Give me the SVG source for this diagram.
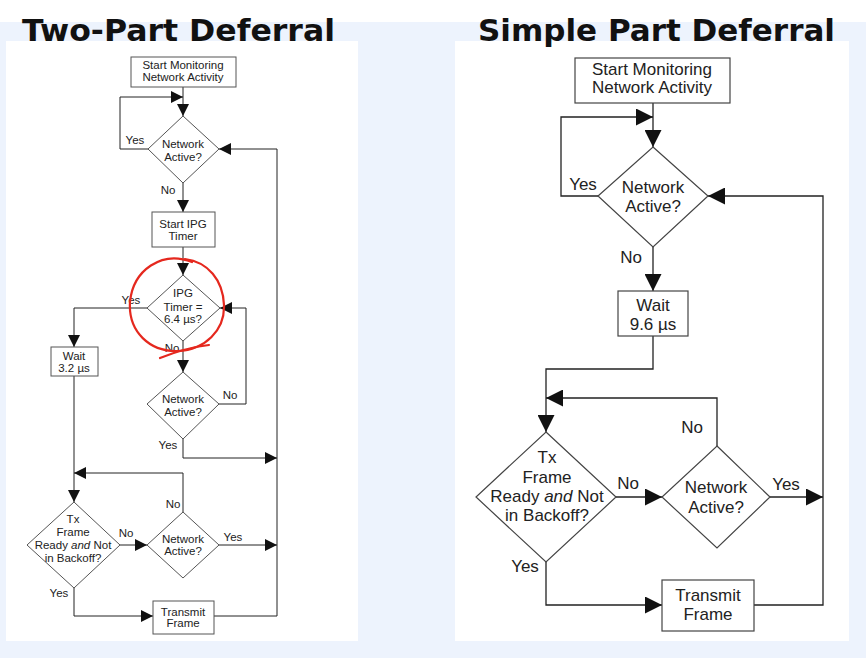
<svg xmlns="http://www.w3.org/2000/svg" width="866" height="658" viewBox="0 0 866 658">
<style>
.title{font-family:"DejaVu Sans",Verdana,sans-serif;font-weight:bold;font-size:31px;fill:#111}
.ls{font-family:"Liberation Sans",Arial,sans-serif;font-size:11.5px;fill:#222;text-anchor:middle}
.rs{font-family:"Liberation Sans",Arial,sans-serif;font-size:17px;fill:#222;text-anchor:middle}
.lshape{fill:#fff;stroke:#555;stroke-width:1}
.rshape{fill:#fff;stroke:#444;stroke-width:1.2}
.lc{fill:none;stroke:#222;stroke-width:1;marker-end:url(#ah)}
.rc{fill:none;stroke:#222;stroke-width:1.3;marker-end:url(#ahb)}
.red{fill:none;stroke:#e5281e;stroke-width:2.2;stroke-linecap:round}
</style>
<defs>
<marker id="ah" viewBox="0 0 10 10" refX="10" refY="5" markerUnits="userSpaceOnUse" markerWidth="13" markerHeight="12" orient="auto"><path d="M0,0 L10,5 L0,10 z" fill="#111"/></marker>
<marker id="ahb" viewBox="0 0 10 10" refX="10" refY="5" markerUnits="userSpaceOnUse" markerWidth="19" markerHeight="17" orient="auto"><path d="M0,0 L10,5 L0,10 z" fill="#111"/></marker>
</defs>
<rect x="0" y="0" width="866" height="658" fill="#edf3fd"/>
<rect x="0" y="0" width="866" height="22" fill="#fff"/>
<rect x="6" y="41" width="352" height="600" fill="#fff"/>
<rect x="455" y="41" width="394" height="600" fill="#fff"/>
<text class="title" x="22" y="41" textLength="313" lengthAdjust="spacingAndGlyphs">Two-Part Deferral</text>
<text class="title" x="478" y="41">Simple Part Deferral</text>

<g id="connectors-left">
<path class="lc" d="M183,87 V116"/>
<path class="lc" d="M148,149 H120 V97 H183"/>
<path class="lc" d="M183,183 V212"/>
<path class="lc" d="M183,247 V275"/>
<path class="lc" d="M147,308 H74 V347"/>
<path class="lc" d="M183,341 V372"/>
<path class="lc" d="M219,404 H246 V308 H220"/>
<path class="lc" d="M183,439 V458 H277"/>
<path class="lc" d="M74,376 V502"/>
<path class="lc" d="M183,512 V473 H74"/>
<path class="lc" d="M120,545 H147"/>
<path class="lc" d="M219,545 H277"/>
<path class="lc" d="M74,588 V616 H153"/>
<path class="lc" d="M214,616 H277 V149 H219"/>
</g>

<g id="l-start">
<rect class="lshape" x="131" y="57" width="105" height="30"/>
<text class="ls" x="183" y="69">Start Monitoring</text>
<text class="ls" x="183" y="81">Network Activity</text>
</g>
<g id="l-active1">
<polygon class="lshape" points="183,116 219,149 183,183 148,149"/>
<text class="ls" x="183" y="148">Network</text>
<text class="ls" x="183" y="161">Active?</text>
</g>
<g id="l-ipgstart">
<rect class="lshape" x="152" y="212" width="63" height="35"/>
<text class="ls" x="183" y="228">Start IPG</text>
<text class="ls" x="183" y="240">Timer</text>
</g>
<g id="l-ipg">
<polygon class="lshape" points="183,275 220,308 183,341 147,308"/>
<text class="ls" x="183" y="297">IPG</text>
<text class="ls" x="183" y="311">Timer =</text>
<text class="ls" x="183" y="323">6.4 µs?</text>
</g>
<g id="l-wait">
<rect class="lshape" x="51" y="347" width="47" height="29"/>
<text class="ls" x="74" y="360">Wait</text>
<text class="ls" x="74" y="372">3.2 µs</text>
</g>
<g id="l-active2">
<polygon class="lshape" points="183,372 219,404 183,439 147,404"/>
<text class="ls" x="183" y="403">Network</text>
<text class="ls" x="183" y="416">Active?</text>
</g>
<g id="l-tx">
<polygon class="lshape" points="74,502 120,545 74,588 27,545"/>
<text class="ls" x="73" y="523">Tx</text>
<text class="ls" x="73" y="536">Frame</text>
<text class="ls" x="73" y="549">Ready <tspan font-style="italic">and</tspan> Not</text>
<text class="ls" x="73" y="562">in Backoff?</text>
</g>
<g id="l-active3">
<polygon class="lshape" points="183,512 219,545 183,578 147,545"/>
<text class="ls" x="183" y="543">Network</text>
<text class="ls" x="183" y="555">Active?</text>
</g>
<g id="l-transmit">
<rect class="lshape" x="153" y="601" width="61" height="33"/>
<text class="ls" x="183" y="616">Transmit</text>
<text class="ls" x="183" y="627">Frame</text>
</g>
<g id="l-labels">
<text class="ls" x="135" y="144">Yes</text>
<text class="ls" x="168" y="194">No</text>
<text class="ls" x="131" y="304">Yes</text>
<text class="ls" x="172" y="352">No</text>
<text class="ls" x="230" y="399">No</text>
<text class="ls" x="168" y="449">Yes</text>
<text class="ls" x="173" y="508">No</text>
<text class="ls" x="126" y="537">No</text>
<text class="ls" x="233" y="541">Yes</text>
<text class="ls" x="59" y="597">Yes</text>
</g>
<g id="red-mark">
<path class="red" d="M192,262 C162,250 133,270 130,302 C128,332 150,352 178,351 C205,350 225,330 224,305 C223,280 208,262 185,259"/>
<path class="red" d="M160,358 C175,352 192,347 209,345"/>
</g>

<g id="connectors-right">
<path class="rc" d="M653,103 V147"/>
<path class="rc" d="M598,196 H561 V117 H653"/>
<path class="rc" d="M653,247 V291"/>
<path class="rc" d="M653,336 V369 H546 V432"/>
<path class="rc" d="M717,446 V398 H546"/>
<path class="rc" d="M616,497 H662"/>
<path class="rc" d="M770,497 H823"/>
<path class="rc" d="M546,562 V605 H662"/>
<path class="rc" d="M754,605 H823 V196 H708"/>
</g>

<g id="r-start">
<rect class="rshape" x="575" y="58" width="155" height="45"/>
<text class="rs" x="652" y="75">Start Monitoring</text>
<text class="rs" x="652" y="93">Network Activity</text>
</g>
<g id="r-active1">
<polygon class="rshape" points="653,147 708,196 653,247 598,196"/>
<text class="rs" x="653" y="193">Network</text>
<text class="rs" x="653" y="212">Active?</text>
</g>
<g id="r-wait">
<rect class="rshape" x="618" y="291" width="70" height="45"/>
<text class="rs" x="653" y="311">Wait</text>
<text class="rs" x="653" y="330">9.6 µs</text>
</g>
<g id="r-tx">
<polygon class="rshape" points="546,432 616,497 546,562 476,497"/>
<text class="rs" x="547" y="463">Tx</text>
<text class="rs" x="547" y="483">Frame</text>
<text class="rs" x="547" y="502">Ready <tspan font-style="italic">and</tspan> Not</text>
<text class="rs" x="547" y="521">in Backoff?</text>
</g>
<g id="r-active2">
<polygon class="rshape" points="717,446 770,497 717,548 662,497"/>
<text class="rs" x="716" y="493">Network</text>
<text class="rs" x="716" y="513">Active?</text>
</g>
<g id="r-transmit">
<rect class="rshape" x="662" y="580" width="92" height="51"/>
<text class="rs" x="708" y="601">Transmit</text>
<text class="rs" x="708" y="620">Frame</text>
</g>
<g id="r-labels">
<text class="rs" x="583" y="190">Yes</text>
<text class="rs" x="631" y="263">No</text>
<text class="rs" x="692" y="433">No</text>
<text class="rs" x="628" y="489">No</text>
<text class="rs" x="786" y="490">Yes</text>
<text class="rs" x="525" y="572">Yes</text>
</g>
</svg>
